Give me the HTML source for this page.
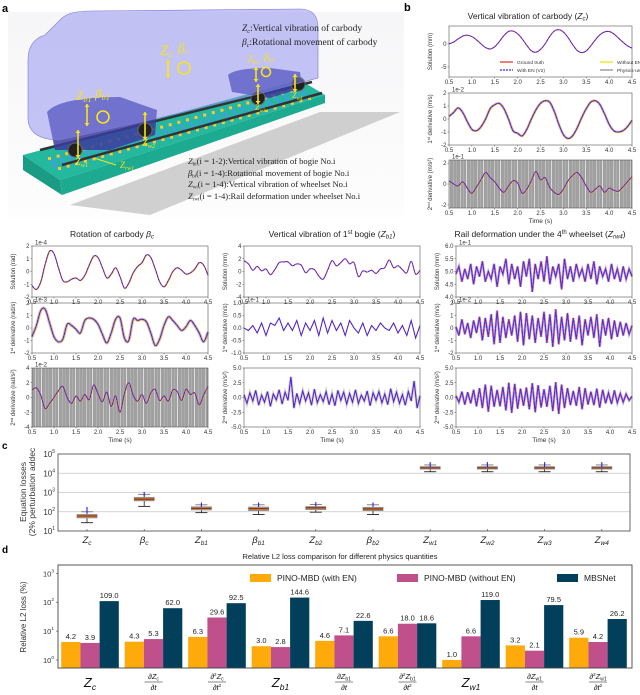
<!DOCTYPE html>
<html><head><meta charset="utf-8">
<style>
html,body{margin:0;padding:0;background:#fff;}
svg{display:block;font-family:"Liberation Sans",sans-serif;}
.tk{font-size:6px;fill:#333;}
.ttl{font-size:8.5px;fill:#222;}
.serif{font-family:"Liberation Serif",serif;}
</style></head>
<body>
<svg id="fig" width="640" height="695" viewBox="0 0 640 695" xmlns="http://www.w3.org/2000/svg">
<defs>
<linearGradient id="bgA" x1="0" y1="0" x2="0" y2="1"><stop offset="0" stop-color="#f6f6f8"/><stop offset="1" stop-color="#fdfdfd"/></linearGradient>
<pattern id="noise" width="17" height="10" patternUnits="userSpaceOnUse">
<rect width="17" height="10" fill="#a0a0a0"/>
<rect x="1" width="0.8" height="10" fill="#d0d0d0"/>
<rect x="4" width="0.6" height="10" fill="#b8b8b8"/>
<rect x="7" width="1.0" height="10" fill="#dcdcdc"/>
<rect x="11" width="0.5" height="10" fill="#c4c4c4"/>
<rect x="14" width="0.8" height="10" fill="#b0b0b0"/>
</pattern>
</defs>
<g id="panelA"></g>
<g id="charts"></g>
</svg>
<script>
// ---------- DATA ----------
const tStart = 0.5, tEnd = 4.5;
const zcSolution = [0,0.4,1.1,1.7,1.9,1.6,0.9,0,-0.8,-1.1,-0.6,0.5,1.8,2.7,2.8,2.2,1.1,-0.3,-1.5,-1.8,-1.2,0,1.6,2.8,3.1,2.6,1.4,-0.1,-1.4,-1.9,-1.5,-0.4,0.9,2.0,2.6,2.7,2.2,1.3,0.4,-0.4,-0.9];
const zcDeriv1 = [0.2,0.5,0.85,0.5,-0.2,-0.8,-0.9,-0.6,0,0.8,1.1,1.2,0.8,0,-0.9,-1.1,-1.3,-0.8,0,0.7,1.2,1.4,1.3,0.6,-0.4,-1.2,-1.5,-1.3,-0.7,0.1,0.8,1.3,1.4,1.1,0.4,-0.4,-0.9,-1.0,-0.9,-0.6,-0.1];
const zcDeriv2 = [0.3,0,-0.2,0.2,-0.4,-0.9,-0.3,0.4,1.1,0.6,0.2,-0.4,-0.8,-0.2,0.3,0.1,-0.9,-0.5,0.3,1.2,0.4,0.6,-0.3,-0.8,-1.0,-0.5,0.3,0.8,1.1,0.6,-0.2,-0.8,-0.5,-0.2,-0.8,-0.4,-0.6,-0.7,-0.3,0.2,0.7];
const betaSolution = [-1.1,-1.4,-0.8,0.6,1.6,1.4,0.3,-0.7,-0.8,-0.6,-0.5,-0.7,-0.3,0.5,1.2,1.1,0.3,-0.5,-0.2,0.3,-0.4,-1.3,-0.9,-0.1,0.4,0.7,1.3,1.1,0.2,-0.8,-1.2,-0.7,0,0.3,0.1,-0.2,-0.1,0.2,0.7,0.5,-0.3];
const betaDeriv1 = [-0.7,0.2,1.4,1.5,0.4,-0.7,-1.1,-0.9,0.3,0.2,-0.1,-0.4,0.6,0.8,0.7,0.3,-0.5,-1.2,-0.4,0.7,0.8,-0.8,-1.0,0.7,0.6,0.7,0.5,-0.4,-1.4,-0.9,0.2,0.9,0.6,0.2,-0.2,0.1,0.6,0.2,-0.4,-1.1,-0.3];
const betaDeriv2 = [1.0,1.3,0.3,-1.5,-0.8,0,0.9,1.5,0,-0.8,0.2,-0.5,0.4,-0.3,1.7,0.5,-0.6,0.7,-1.2,0.2,-2.0,0.5,2.0,0.3,-0.5,0.4,-0.8,0.6,1.1,-0.4,0.2,-0.5,1.0,0.8,-0.4,1.1,0.4,0.6,-1.0,0.3,1.5];
const zb1Solution = [1.7,1.2,0.2,0.8,0.1,0.4,-0.5,0.3,1.4,1.5,1.5,0.9,1.2,1.0,-0.2,0.4,0.3,-0.7,-1.2,0.2,1.7,0.9,1.4,2.0,1.2,1.4,-0.8,0.1,-0.1,0.2,-0.3,0.4,0.6,1.8,0.6,0.9,0.3,-0.2,1.6,-0.4,0.2];
const zb1Deriv1 = [0,-0.1,0.1,-0.2,0.2,-0.3,0.2,0.1,0.4,-0.1,0.2,-0.1,0.3,-0.3,0.2,-0.1,0.3,-0.3,0.4,-0.2,0.3,-0.1,0.2,-0.3,0.3,0,-0.2,0.2,-0.3,0.1,-0.1,0.2,0,-0.1,0.2,-0.2,0.1,-0.3,0.3,-0.4,0.1];
const zb1Deriv2 = [0.5,-1.0,0.8,-0.6,1.2,-1.3,0.4,-0.8,1.0,-1.5,0.6,-0.4,1.3,-1.1,0.9,-0.5,3.5,-1.8,0.7,-1.0,1.1,-0.6,0.8,-1.3,1.4,-0.9,0.5,-0.7,1.0,-1.2,0.6,-1.4,1.2,-0.5,0.9,-1.1,0.7,-0.8,1.3,-1.0,0.4,-0.6,1.1,-1.4,0.8,-0.5,1.0,-0.9,0.6,-1.2,1.5,-0.7,0.9,-1.0,0.5,-1.3,1.0,-0.6,2.8,-1.8,0.3];
const rwSolution = [4.9,5.2,4.6,5.1,4.7,5.3,4.5,5.2,4.8,5.4,4.6,5.0,4.7,5.3,4.4,5.2,4.9,5.5,4.5,5.3,4.7,5.2,4.4,5.4,4.8,5.5,4.2,5.3,4.7,5.4,4.6,5.6,4.5,5.2,4.8,5.3,4.3,5.5,4.7,5.2,4.6,5.3,4.8,5.1,4.6,5.3,4.7,5.4,4.5,5.2,4.8,5.1,4.6,5.3,4.7,5.1,4.6,5.2,4.7,5.1,4.8];
const rwDeriv1 = [0.1,-0.6,0.7,-0.5,0.4,-0.8,0.6,-0.4,0.9,-1.0,0.8,-0.7,1.1,-1.3,1.4,-1.2,0.9,-0.8,0.7,-0.6,1.0,-1.1,1.3,-1.4,1.2,-0.9,1.0,-1.2,0.8,-0.7,1.3,-1.2,1.1,-1.5,1.5,-1.3,0.9,-1.0,1.2,-1.1,0.8,-0.9,1.0,-1.4,0.7,-0.6,0.9,-0.8,1.1,-1.5,0.7,-0.6,0.8,-0.9,0.6,-0.7,0.5,-0.6,0.4,-0.5,0.2];
const rwDeriv2 = [0.3,-0.8,1.0,-1.2,0.9,-1.0,1.3,-1.5,1.6,-1.8,2.2,-2.4,2.0,-1.6,1.3,-1.5,1.8,-2.2,2.5,-2.6,2.3,-1.9,1.5,-1.4,1.7,-2.0,2.4,-2.5,2.1,-1.7,1.4,-1.6,2.0,-2.3,2.6,-2.8,2.2,-1.8,1.6,-1.3,1.1,-1.4,1.8,-2.0,1.6,-1.2,1.0,-1.3,1.5,-1.7,1.3,-1.0,0.8,-1.1,1.2,-0.9,0.7,-0.8,0.6,-0.5,0.2];

const boxCats = ['Z_c','β_c','Z_b1','β_b1','Z_b2','β_b2','Z_w1','Z_w2','Z_w3','Z_w4'];
const boxMedian = [60,450,150,145,160,140,19000,19000,19000,19000];
const boxQ1 = [48,370,125,115,130,115,16500,16500,16500,16500];
const boxQ3 = [72,560,180,175,185,170,22000,22000,22000,22000];
const boxLow = [27,190,90,72,95,72,12000,12000,12000,12000];
const boxHigh = [100,800,230,230,240,230,27000,27000,27000,27000];
const boxMark = [140,850,240,240,250,240,30000,30000,30000,30000];

const barGroups = ['Zc','dZc','d2Zc','Zb1','dZb1','d2Zb1','Zw1','dZw1','d2Zw1'];
const withEN = [4.2,4.3,6.3,3.0,4.6,6.6,1.0,3.2,5.9];
const withoutEN = [3.9,5.3,29.6,2.8,7.1,18.0,6.6,2.1,4.2];
const mbsnet = [109.0,62.0,92.5,144.6,22.6,18.6,119.0,79.5,26.2];
const barLabelsWith = ['4.2','4.3','6.3','3.0','4.6','6.6','1.0','3.2','5.9'];
const barLabelsWithout = ['3.9','5.3','29.6','2.8','7.1','18.0','6.6','2.1','4.2'];
const barLabelsMbs = ['109.0','62.0','92.5','144.6','22.6','18.6','119.0','79.5','26.2'];
const timeTicks = ['0.5','1.0','1.5','2.0','2.5','3.0','3.5','4.0','4.5'];

// ---------- HELPERS ----------
const NS='http://www.w3.org/2000/svg';
const root=document.getElementById('charts');
function el(tag,attrs,parent,text){const e=document.createElementNS(NS,tag);for(const k in attrs)e.setAttribute(k,attrs[k]);if(text!==undefined)e.textContent=text;(parent||root).appendChild(e);return e;}
function smoothPath(pts){let d='M'+pts[0][0].toFixed(1)+','+pts[0][1].toFixed(1);for(let i=0;i<pts.length-1;i++){const p0=pts[i-1]||pts[i],p1=pts[i],p2=pts[i+1],p3=pts[i+2]||p2;const c1=[p1[0]+(p2[0]-p0[0])/6,p1[1]+(p2[1]-p0[1])/6],c2=[p2[0]-(p3[0]-p1[0])/6,p2[1]-(p3[1]-p1[1])/6];d+='C'+c1.map(v=>v.toFixed(1))+' '+c2.map(v=>v.toFixed(1))+' '+p2[0].toFixed(1)+','+p2[1].toFixed(1);}return d;}
function linePath(pts){return 'M'+pts.map(p=>p[0].toFixed(1)+','+p[1].toFixed(1)).join('L');}

function tsPanel(o){
  const g=el('g',{});
  
  
  const X=t=>o.x+(t-tStart)/(tEnd-tStart)*o.w;
  const Y=v=>o.y+o.h-(v-o.ymin)/(o.ymax-o.ymin)*o.h;
  if(o.noise){const r=el('rect',{x:o.x,y:o.y,width:o.w,height:o.h,fill:'url(#noise)'},g);}
  const n=o.data.length;
  const pts=o.data.map((v,i)=>[X(tStart+i*(tEnd-tStart)/(n-1)),Y(v)]);
  const d=o.jag?linePath(pts):smoothPath(pts);
  if(o.halo){const h=el('path',{d:d,fill:'none',stroke:o.haloColor||'#9a9a9a','stroke-width':o.halo,'stroke-opacity':o.haloOp||0.6},g);}
  if(o.yellow){const y=el('path',{d:d,fill:'none',stroke:'#f2e000','stroke-width':1.0,transform:'translate(0.4,0.5)','stroke-opacity':0.8},g);}
  const r=el('path',{d:d,fill:'none',stroke:'#e02828','stroke-width':1.0},g);
  const b=el('path',{d:d,fill:'none',stroke:'#3a2aee','stroke-width':0.9,'stroke-dasharray':o.jag?'none':'3,0.8'},g);
  if(o.dots){const rd=el('path',{d:d,fill:'none',stroke:'#e02828','stroke-width':0.9,'stroke-dasharray':'1,2.5'},g);}
  const fr=el('rect',{x:o.x,y:o.y,width:o.w,height:o.h,fill:'none',stroke:'#555','stroke-width':0.6},g);
  timeTicks.forEach(s=>{const t=parseFloat(s);const x=X(t);el('line',{x1:x,x2:x,y1:o.y+o.h,y2:o.y+o.h+1.5,stroke:'#555','stroke-width':0.5},g);const tx=el('text',{x:x,y:o.y+o.h+7,'text-anchor':'middle',class:'tk'},g,s);});
  o.yticks.forEach(v=>{const y=Y(v);el('line',{x1:o.x-1.5,x2:o.x,y1:y,y2:y,stroke:'#555','stroke-width':0.5},g);const tx=el('text',{x:o.x-2.5,y:y+2,'text-anchor':'end',class:'tk'},g,o.yfmt?o.yfmt(v):String(v));});
  if(o.exp){const e=el('text',{x:o.x+3,y:o.y-1.5,class:'tk','font-size':'5'},g,o.exp);}
  const yl=el('text',{x:0,y:0,'font-size':'6','fill':'#333','text-anchor':'middle',transform:`translate(${o.x-17},${o.y+o.h/2}) rotate(-90)`},g);
  yl.innerHTML=o.ylabel;
  if(o.xlabel){const xl=el('text',{x:o.x+o.w/2,y:o.y+o.h+15,'text-anchor':'middle','font-size':'6.5',fill:'#333'},g,'Time (s)');}
  return g;
}
const f1=v=>v.toFixed(1);
const d1=u=>`1<tspan font-size="4" dy="-2">st</tspan><tspan dy="2"> derivative (${u})</tspan>`;
const d2=u=>`2<tspan font-size="4" dy="-2">nd</tspan><tspan dy="2"> derivative (${u})</tspan>`;

// ---------- PANEL LABELS & TITLES ----------
function txt(x,y,s,attrs,name){const t=el('text',Object.assign({x:x,y:y},attrs||{}),root);t.innerHTML=s;return t;}
txt(2,12,'a',{'font-size':'11','font-weight':'bold'},'panel-a-label');
txt(404,11,'b',{'font-size':'11','font-weight':'bold'},'panel-b-label');
txt(2,449,'c',{'font-size':'10','font-weight':'bold'},'panel-c-label');
txt(2,553,'d',{'font-size':'10','font-weight':'bold'},'panel-d-label');
txt(528,19,'Vertical vibration of carbody (<tspan font-style="italic">Z</tspan><tspan font-size="6" font-style="italic" dy="1.5">c</tspan><tspan dy="-1.5">)</tspan>',{'text-anchor':'middle',class:'ttl'},'panel-b-title');
txt(112,237,'Rotation of carbody <tspan font-style="italic">β</tspan><tspan font-size="6" font-style="italic" dy="1.5">c</tspan>',{'text-anchor':'middle',class:'ttl'},'beta-c-title');
txt(332,237,'Vertical vibration of 1<tspan font-size="6" dy="-3">st</tspan><tspan dy="3"> bogie (</tspan><tspan font-style="italic">Z</tspan><tspan font-size="6" font-style="italic" dy="1.5">b1</tspan><tspan dy="-1.5">)</tspan>',{'text-anchor':'middle',class:'ttl'},'zb1-title');
txt(540,237,'Rail deformation under the 4<tspan font-size="6" dy="-3">th</tspan><tspan dy="3"> wheelset (</tspan><tspan font-style="italic">Z</tspan><tspan font-size="6" font-style="italic" dy="1.5">rw4</tspan><tspan dy="-1.5">)</tspan>',{'text-anchor':'middle',class:'ttl'},'zrw4-title');

// ---------- PANEL B ----------
tsPanel({name:'zc-solution-plot',x:449,y:26,w:183,h:51,ymin:-7.2,ymax:3.9,data:zcSolution,yticks:[0,-5],ylabel:'Solution (mm)'});
tsPanel({name:'zc-deriv1-plot',x:449,y:93,w:183,h:52,ymin:-2,ymax:2,data:zcDeriv1,yticks:[2,1,0,-1,-2],ylabel:d1('m/s'),exp:'1e-2',halo:2.6,yellow:true});
tsPanel({name:'zc-deriv2-plot',x:449,y:160,w:183,h:48,ymin:-2.3,ymax:2.3,data:zcDeriv2,yticks:[2,0,-2],ylabel:d2('m/s²'),exp:'1e-1',noise:true,yellow:true,xlabel:true});
(function(){const g=el('g',{});
const items=[[500,62,'#e02828','none','Ground truth'],[600,62,'#f2e000','none','Without EN (V3)'],[500,70,'#2a2aff','2,1','With EN (V2)'],[600,70,'#888','none','Physics-uninformed (V4)']];
items.forEach(it=>{const e=el('g',{},g);el('line',{x1:it[0],x2:it[0]+13,y1:it[1],y2:it[1],stroke:it[2],'stroke-width':1.2,'stroke-dasharray':it[3]},e);el('text',{x:it[0]+17,y:it[1]+2,'font-size':'4.8',fill:'#333'},e,it[4]);});})();

// ---------- MIDDLE ROW ----------
tsPanel({name:'beta-c-solution-plot',x:32,y:246,w:176,h:51,ymin:-2,ymax:2,data:betaSolution,yticks:[2,1,0,-1,-2],ylabel:'Solution (rad)',exp:'1e-4',yellow:true});
tsPanel({name:'beta-c-deriv1-plot',x:32,y:303,w:176,h:50,ymin:-2,ymax:2,data:betaDeriv1,yticks:[2,1,0,-1,-2],ylabel:d1('rad/s'),exp:'1e-3',halo:3,yellow:true});
tsPanel({name:'beta-c-deriv2-plot',x:32,y:368,w:176,h:59,ymin:-4,ymax:4,data:betaDeriv2,yticks:[4,2,0,-2,-4],ylabel:d2('rad/s²'),exp:'1e-2',noise:true,yellow:true,xlabel:true});

tsPanel({name:'zb1-solution-plot',x:244,y:246,w:176,h:51,ymin:-4,ymax:4,data:zb1Solution,yticks:[4,2,0,-2,-4],ylabel:'Solution (mm)'});
tsPanel({name:'zb1-deriv1-plot',x:244,y:303,w:176,h:50,ymin:-1,ymax:1,data:zb1Deriv1,yticks:[1,0.5,0,-0.5,-1],yfmt:f1,ylabel:d1('m/s'),exp:'1e-1',jag:true});
tsPanel({name:'zb1-deriv2-plot',x:244,y:368,w:176,h:59,ymin:-5,ymax:5,data:zb1Deriv2,yticks:[5,2.5,0,-2.5,-5],yfmt:f1,ylabel:d2('m/s²'),jag:true,halo:3,haloColor:'#bbb',xlabel:true});

tsPanel({name:'zrw4-solution-plot',x:456,y:246,w:176,h:51,ymin:4,ymax:6,data:rwSolution,yticks:[6,5.5,5,4.5,4],yfmt:f1,ylabel:'Solution (mm)',exp:'1e-1',jag:true,halo:2.5,haloColor:'#6060ff',haloOp:0.5,dots:true});
tsPanel({name:'zrw4-deriv1-plot',x:456,y:303,w:176,h:50,ymin:-2,ymax:2,data:rwDeriv1,yticks:[2,1,0,-1,-2],ylabel:d1('m/s'),exp:'1e-2',jag:true,halo:2.5,haloColor:'#6060ff',haloOp:0.5,dots:true});
tsPanel({name:'zrw4-deriv2-plot',x:456,y:368,w:176,h:59,ymin:-5,ymax:5,data:rwDeriv2,yticks:[5,2.5,0,-2.5,-5],yfmt:f1,ylabel:d2('m/s²'),jag:true,halo:2.5,haloColor:'#6060ff',haloOp:0.5,dots:true,xlabel:true});

// ---------- PANEL C : BOX PLOT ----------
(function(){
const g=el('g',{});
const x0=58,x1=630,yTop=454,yBot=531;
const Y=v=>yBot-(Math.log10(v)-1)/4*(yBot-yTop);
const X=i=>87+i*57.2;
[2,3,4].forEach(p=>{const gl=el('line',{x1:x0,x2:x1,y1:Y(Math.pow(10,p)),y2:Y(Math.pow(10,p)),stroke:'#c8c8c8','stroke-width':0.8},g);});
el('rect',{x:x0,y:yTop,width:x1-x0,height:yBot-yTop,fill:'none',stroke:'#444','stroke-width':0.8},g);
[1,2,3,4,5].forEach(p=>{const y=Y(Math.pow(10,p));const t=el('text',{x:x0-3,y:y+3,'text-anchor':'end','font-size':'8',fill:'#333'},g);t.innerHTML='10<tspan font-size="5" dy="-4">'+p+'</tspan>';});
boxCats.forEach((c,i)=>{
 const x=X(i);const b=el('g',{},g);
 el('line',{x1:x,x2:x,y1:Y(boxLow[i]),y2:Y(boxHigh[i]),stroke:'#222','stroke-width':0.8},b);
 el('line',{x1:x-6,x2:x+6,y1:Y(boxLow[i]),y2:Y(boxLow[i]),stroke:'#222','stroke-width':0.9},b);
 el('line',{x1:x-6,x2:x+6,y1:Y(boxHigh[i]),y2:Y(boxHigh[i]),stroke:'#777','stroke-width':0.9},b);
 el('rect',{x:x-10,y:Y(boxQ3[i]),width:20,height:Math.max(2,Y(boxQ1[i])-Y(boxQ3[i])),fill:'#d09050',stroke:'#8a8a9a','stroke-width':0.8},b);
 el('line',{x1:x-10,x2:x+10,y1:Y(boxMedian[i]),y2:Y(boxMedian[i]),stroke:'#8b3a0e','stroke-width':1.3},b);
 el('line',{x1:x,x2:x,y1:Y(boxMark[i])-2,y2:Y(boxHigh[i])+2,stroke:'#2020ff','stroke-width':1.1},b);
 el('line',{x1:x,x2:x,y1:yBot,y2:yBot-2,stroke:'#444','stroke-width':0.6},g);
 const p=c.split('_');const t=el('text',{x:x,y:543,'text-anchor':'middle','font-size':'9.5','font-style':'italic',fill:'#222'},g);t.innerHTML=p[0]+'<tspan font-size="6.5" dy="2">'+p[1]+'</tspan>';
});
const yl=el('text',{transform:'translate(26,492) rotate(-90)','text-anchor':'middle','font-size':'8.5',fill:'#333'},g);yl.innerHTML='<tspan x="0" dy="0">Equation losses</tspan><tspan x="0" dy="9">(2% perturbation addec</tspan>';
})();

// ---------- PANEL D : BAR CHART ----------
(function(){
const g=el('g',{});
const x0=58,x1=632,yTop=565,yBot=668,yZero=660,pxDec=28.9;
const Y=v=>yZero-Math.log10(v)*pxDec;
const t=el('text',{x:340,y:559,'text-anchor':'middle','font-size':'7.5',fill:'#222'},g,'Relative L2 loss comparison for different physics quantities');
const bw=19.2,gc=i=>90+i*63.5;
const series=[[withEN,'#fdaa0a','bar-with-en',barLabelsWith],[withoutEN,'#c0508c','bar-without-en',barLabelsWithout],[mbsnet,'#023f5a','bar-mbsnet',barLabelsMbs]];
barGroups.forEach((gname,i)=>{
 series.forEach((s,k)=>{
  const x=gc(i)-1.5*bw+k*bw;const v=s[0][i];const y=Y(v);
  const r=el('rect',{x:x,y:y,width:bw,height:yBot-y,fill:s[1]},g);
  
  
  const l=el('text',{x:x+bw/2,y:y-3,'text-anchor':'middle','font-size':'7.5',fill:'#222'},g,s[3][i]);
  
  
 });
});
el('rect',{x:x0,y:yTop,width:x1-x0,height:yBot-yTop,fill:'none',stroke:'#444','stroke-width':0.9},g);
[0,1,2,3].forEach(p=>{const y=Y(Math.pow(10,p));el('line',{x1:x0-2,x2:x0,y1:y,y2:y,stroke:'#444','stroke-width':0.6},g);const tk=el('text',{x:x0-4,y:y+3,'text-anchor':'end','font-size':'7.5',fill:'#333'},g);tk.innerHTML='10<tspan font-size="4.8" dy="-4">'+p+'</tspan>';});
const yl=el('text',{transform:'translate(26,617) rotate(-90)','text-anchor':'middle','font-size':'8',fill:'#333'},g,'Relative L2 loss (%)');
const leg=[[250,'#fdaa0a','PINO-MBD (with EN)'],[397,'#c0508c','PINO-MBD (without EN)'],[557,'#023f5a','MBSNet']];
leg.forEach(L=>{const e=el('g',{},g);el('rect',{x:L[0],y:574,width:21,height:8,fill:L[1]},e);el('text',{x:L[0]+27,y:581,'font-size':'8.5',fill:'#222'},e,L[2]);});
const sym=[['Z','c'],['Z','b1'],['Z','w1']];
barGroups.forEach((gname,i)=>{
 const x=gc(i);const s=sym[Math.floor(i/3)];const kind=i%3;
 const lg=el('g',{},g);
 if(kind===0){const tx=el('text',{x:x,y:687,'text-anchor':'middle','font-size':'13',fill:'#111'},lg);tx.innerHTML='<tspan font-style="italic">'+s[0]+'</tspan><tspan font-size="8.5" font-style="italic" dy="3">'+s[1]+'</tspan>';}
 else{const num=(kind===1?'∂':'∂<tspan font-size="4.5" dy="-3">2</tspan><tspan dy="3">')+'<tspan font-style="italic">'+s[0]+'</tspan><tspan font-size="5" dy="1.5">'+s[1]+'</tspan>'+(kind===2?'</tspan>':'');
  const n=el('text',{x:x,y:679,'text-anchor':'middle','font-size':'7.5',fill:'#111'},lg);n.innerHTML=num;
  el('line',{x1:x-9,x2:x+9,y1:682,y2:682,stroke:'#111','stroke-width':0.5},lg);
  const dd=el('text',{x:x,y:690,'text-anchor':'middle','font-size':'7.5',fill:'#111'},lg);dd.innerHTML='∂<tspan font-style="italic">t</tspan>'+(kind===2?'<tspan font-size="4.5" dy="-3">2</tspan>':'');}
});
})();

// ---------- PANEL A : TRAIN ILLUSTRATION ----------
(function(){
const A=document.getElementById('panelA');
function a(tag,attrs,name,text){const e=el(tag,attrs,A,text);if(name){}return e;}
a('rect',{x:8,y:12,width:396,height:205,fill:'url(#bgA)'},'panel-a-background');
a('polygon',{points:'70,205 320,112 400,112 150,215',fill:'#c4c4c4',opacity:0.8},'ground-shadow');
a('polygon',{points:'23,155 300,80 325,95 60,180',fill:'#24b89e'},'track-slab-top');
a('polygon',{points:'23,155 60,180 62,195 23,170',fill:'#1a9c84'},'track-slab-side');
a('polygon',{points:'60,180 325,95 325,103 62,195',fill:'#1caa90'},'track-slab-front');
const sl=a('g',{},'sleepers');
for(let i=0;i<30;i++){const f=i/29;const cx=55+f*250,cy=165-f*70;
 el('polygon',{points:`${cx-9},${cy-8} ${cx-5},${cy-9} ${cx+7},${cy+5} ${cx+3},${cy+6}`,fill:'#37a6d0'},sl);
 el('rect',{x:cx-7,y:cy-8,width:3,height:3,fill:'#f0d020'},sl);el('rect',{x:cx+3,y:cy+2,width:3,height:3,fill:'#f0d020'},sl);}
a('line',{x1:40,y1:150,x2:312,y2:82,stroke:'#333','stroke-width':2.5},'rail-left');
a('line',{x1:62,y1:165,x2:322,y2:93,stroke:'#333','stroke-width':2.5},'rail-right');
a('path',{d:'M47,112 Q60,97 120,97 L157,110 L155,135 L110,150 L55,150 Z',fill:'#3b3b9e',opacity:0.85},'bogie-1');
a('path',{d:'M228,75 Q235,68 270,68 L300,72 L302,88 L270,98 L232,92 Z',fill:'#3b3b9e',opacity:0.85},'bogie-2');
[[75,150],[145,130],[258,98],[298,84]].forEach(w=>{a('circle',{cx:w[0],cy:w[1],r:7,fill:'#222',stroke:'#666','stroke-width':1},'wheelset');});
a('path',{d:'M28,60 Q28,40 45,35 L62,18 Q70,11 90,11 L300,9 Q318,9 318,28 L318,78 L255,95 L150,120 L60,140 Q30,140 28,120 Z',fill:'#8c8cf0','fill-opacity':0.5,stroke:'#7a7ad8','stroke-width':0.6},'carbody');
const Y='#f5e51a';
function arr(x,y1,y2){a('line',{x1:x,y1:y1,x2:x,y2:y2,stroke:Y,'stroke-width':1.6},'vertical-arrow');a('polygon',{points:`${x-2.5},${y1+3} ${x+2.5},${y1+3} ${x},${y1}`,fill:Y});a('polygon',{points:`${x-2.5},${y2-3} ${x+2.5},${y2-3} ${x},${y2}`,fill:Y});}
function circ(x,y,r){a('circle',{cx:x,cy:y,r:r,fill:'none',stroke:Y,'stroke-width':1.6},'rotation-icon');}
function lab(x,y,s,sub,fs,name){const t=a('text',{x:x,y:y,'font-size':fs,fill:Y,class:'serif','font-style':'italic'},name);t.innerHTML=s+'<tspan font-size="'+(fs*0.65)+'" dy="2">'+sub+'</tspan>';}
lab(160,55,'Z','c',15,'zc-label');lab(178,52,'β','c',13,'beta-c-label');arr(168,60,78);circ(184,68,6);
lab(248,62,'Z','b2',9,'zb2-label');lab(264,60,'β','b2',9,'beta-b2-label');arr(256,67,82);circ(266,72,4.5);
lab(76,100,'Z','b1',13,'zb1-label');lab(95,98,'β','b1',13,'beta-b1-label');arr(87,104,126);circ(103,117,6);
arr(78,130,158);arr(145,112,140);arr(258,84,104);arr(295,74,92);
lab(75,165,'Z','w1',10,'zw1-label');lab(142,146,'Z','w2',10,'zw2-label');lab(255,110,'Z','w3',8,'zw3-label');lab(292,98,'Z','w4',8,'zw4-label');
lab(120,168,'Z','rw1',9,'zrw1-label');a('line',{x1:94,y1:158,x2:116,y2:165,stroke:Y,'stroke-width':1},'rail-arrow');
const lines1=[[242,31,'<tspan font-style="italic">Z<tspan font-size="6" dy="2">c</tspan></tspan><tspan dy="-2">:Vertical vibration of carbody</tspan>'],[242,45,'<tspan font-style="italic">β<tspan font-size="6" dy="2">c</tspan></tspan><tspan dy="-2">:Rotational movement of carbody</tspan>']];
lines1.forEach(l=>{const t=a('text',{x:l[0],y:l[1],'font-size':'9.5',fill:'#222',class:'serif'},'description-line');t.innerHTML=l[2];});
const lines2=[[188,164,'Z','bi','(i = 1-2):Vertical vibration of bogie No.i'],[188,176,'β','bi','(i = 1-4):Rotational movement of bogie No.i'],[188,187,'Z','wi','(i = 1-4):Vertical vibration of wheelset No.i'],[188,199,'Z','rwi','(i = 1-4):Rail deformation under wheelset No.i']];
lines2.forEach(l=>{const t=a('text',{x:l[0],y:l[1],'font-size':'8.6',fill:'#222',class:'serif'},'description-line');t.innerHTML='<tspan font-style="italic">'+l[2]+'</tspan><tspan font-size="5" dy="1.5">'+l[3]+'</tspan><tspan dy="-1.5">'+l[4]+'</tspan>';});
})();
</script>
</body></html>
